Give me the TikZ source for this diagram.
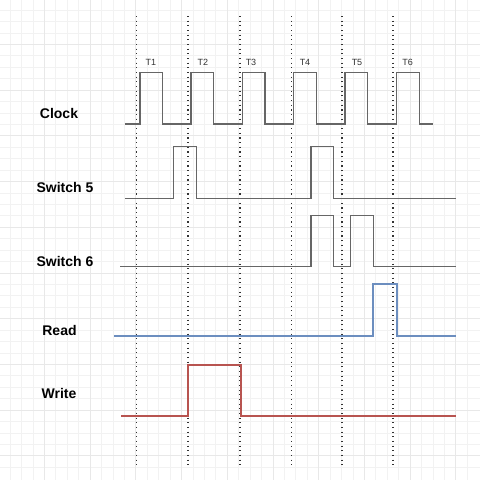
\documentclass[tikz,border=0pt]{standalone}
\usepackage{fontspec}
\setmainfont{Liberation Sans}
\definecolor{gridminor}{HTML}{F2F2F2}
\definecolor{gridmajor}{HTML}{E8E8E8}
\definecolor{sig}{HTML}{666666}
\definecolor{readc}{HTML}{6C8EBF}
\definecolor{writec}{HTML}{B85450}
\tikzset{
  sigline/.style={draw=sig, line width=1.3pt},
  readline/.style={draw=readc, line width=2pt},
  writeline/.style={draw=writec, line width=2pt},
  tick/.style={draw=black!80, line width=1.1pt, dash pattern=on 1.1pt off 3.57pt},
  rowlabel/.style={font=\bfseries\fontsize{14}{16}\selectfont, text=black, inner sep=0pt},
  tlabel/.style={font=\fontsize{9}{10}\selectfont, text=black!80, inner sep=0pt},
}
\begin{document}
\begin{tikzpicture}[x=1pt,y=-1pt]
\useasboundingbox (0,0) rectangle (480,480);
\fill[white] (0,0) rectangle (480,480);
% grid
\foreach \i in {0,...,41} {
  \pgfmathsetmacro{\p}{10+11.43*\i-11.43}
  \draw[gridminor, line width=0.6pt] (\p,0) -- (\p,480);
  \draw[gridminor, line width=0.6pt] (0,\p) -- (480,\p);
}
\foreach \i in {0,...,11} {
  \pgfmathsetmacro{\p}{10+45.72*\i-45.72+34.3}
  \draw[gridmajor, line width=0.7pt] (\p,0) -- (\p,480);
  \draw[gridmajor, line width=0.7pt] (0,\p) -- (480,\p);
}
% dotted time markers
\foreach \x in {136.5,188,240,291.5,342,393} {
  \draw[tick] (\x,16) -- (\x,468);
}
% labels
\node[rowlabel] (lclock) at (59,113) {Clock};
\node[rowlabel] (lsw5) at (65,187.5) {Switch 5};
\node[rowlabel] (lsw6) at (65,261.5) {Switch 6};
\node[rowlabel] (lread) at (59.5,330.5) {Read};
\node[rowlabel] (lwrite) at (59,393.5) {Write};
\node[tlabel] (t1) at (151,62) {T1};
\node[tlabel] (t2) at (203,62) {T2};
\node[tlabel] (t3) at (251,62) {T3};
\node[tlabel] (t4) at (305,62) {T4};
\node[tlabel] (t5) at (357,62) {T5};
\node[tlabel] (t6) at (407.5,62) {T6};
% clock
\draw[sigline] (125,124) -- (140,124) -- (140,72.7) -- (162.3,72.7) -- (162.3,124)
  -- (191,124) -- (191,72.7) -- (213.3,72.7) -- (213.3,124)
  -- (242.3,124) -- (242.3,72.7) -- (265,72.7) -- (265,124)
  -- (293.3,124) -- (293.3,72.7) -- (316.3,72.7) -- (316.3,124)
  -- (345,124) -- (345,72.7) -- (367.7,72.7) -- (367.7,124)
  -- (396.7,124) -- (396.7,72.7) -- (419.3,72.7) -- (419.3,124) -- (433.3,124);
% switch 5
\draw[sigline] (125,198.7) -- (173.7,198.7) -- (173.7,146.7) -- (196.7,146.7) -- (196.7,198.7)
  -- (311,198.7) -- (311,146.7) -- (333.3,146.7) -- (333.3,198.7) -- (456,198.7);
% switch 6
\draw[sigline] (120,266.7) -- (311,266.7) -- (311,215.7) -- (333.3,215.7) -- (333.3,266.7)
  -- (350.3,266.7) -- (350.3,215.7) -- (373.3,215.7) -- (373.3,266.7) -- (456,266.7);
% read
\draw[readline] (114,335.7) -- (373.3,335.7) -- (373.3,284.3) -- (396.7,284.3) -- (396.7,335.7) -- (456,335.7);
% write
\draw[writeline] (121,415.7) -- (188.3,415.7) -- (188.3,365) -- (241.3,365) -- (241.3,415.7) -- (456,415.7);
\end{tikzpicture}
\end{document}
